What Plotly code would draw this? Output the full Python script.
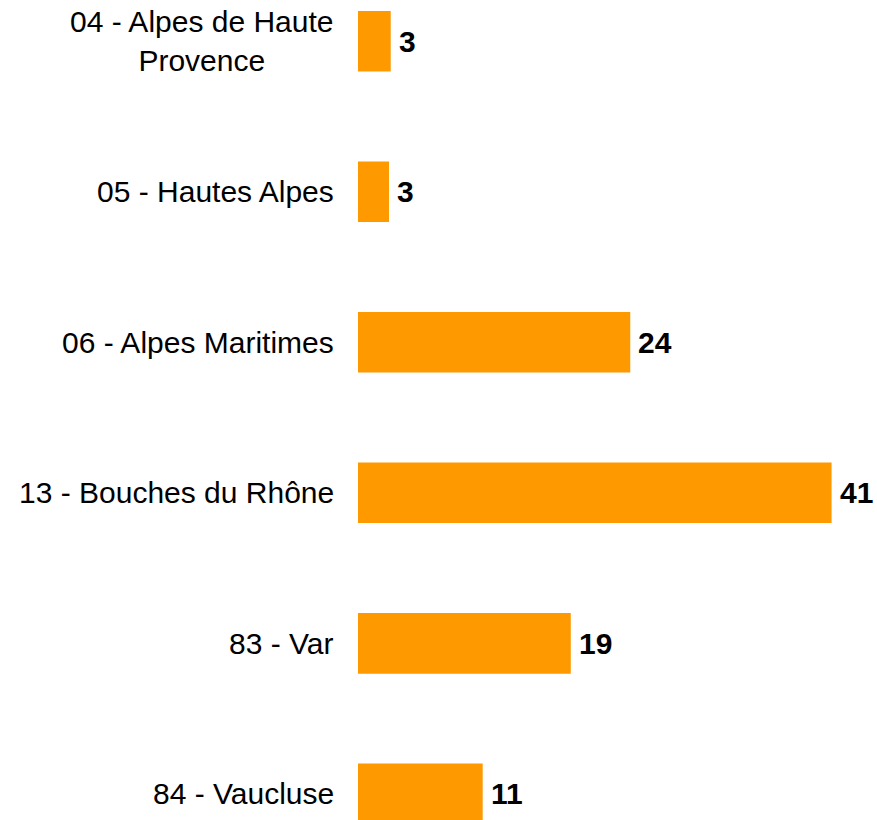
import plotly.graph_objects as go

categories = [
    "04 - Alpes de Haute<br>Provence",
    "05 - Hautes Alpes",
    "06 - Alpes Maritimes",
    "13 - Bouches du Rhône",
    "83 - Var",
    "84 - Vaucluse",
]
values = [2.86, 2.71, 23.8, 41.4, 18.6, 10.9]
value_labels = [f"{v:.0f}" for v in values]

BAR_COLOR = "#FF9900"
FONT = "Liberation Sans, Arial, sans-serif"

fig = go.Figure()
fig.add_trace(go.Bar(
    x=values,
    y=categories,
    orientation="h",
    marker=dict(color=BAR_COLOR, line=dict(width=0)),
    width=0.403,
    hoverinfo="skip",
))

annotations = []
for cat, v, lab in zip(categories, values, value_labels):
    annotations.append(dict(
        x=0, y=cat, xref="x", yref="y",
        text=cat, showarrow=False,
        xanchor="right", yanchor="middle", align="center",
        xshift=-22,
        font=dict(family=FONT, size=30, color="#000000"),
    ))
    annotations.append(dict(
        x=v, y=cat, xref="x", yref="y",
        text=f"<b>{lab}</b>", showarrow=False,
        xanchor="left", yanchor="middle",
        xshift=6,
        font=dict(family=FONT, size=30, color="#000000"),
    ))

fig.update_layout(
    width=877, height=820,
    margin=dict(l=358, r=0, t=0, b=0),
    paper_bgcolor="white", plot_bgcolor="white",
    showlegend=False,
    annotations=annotations,
    xaxis=dict(range=[0, 45.37], visible=False, showgrid=False, zeroline=False),
    yaxis=dict(
        type="category",
        categoryorder="array", categoryarray=categories,
        range=[5.174, -0.274],
        showticklabels=False, showgrid=False, zeroline=False, showline=False,
        ticks="",
    ),
)

fig.write_html(
    "out.html",
    config={"displayModeBar": False, "staticPlot": True},
    post_script="document.body.style.margin='0';document.body.style.overflow='hidden';",
)
